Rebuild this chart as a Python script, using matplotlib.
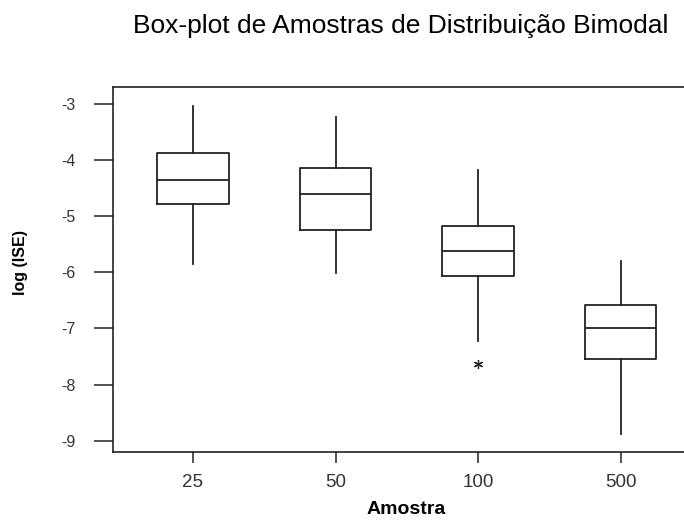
import matplotlib
matplotlib.use("Agg")
import matplotlib.pyplot as plt

plt.rcParams['font.family'] = ['Liberation Sans', 'DejaVu Sans']

# sample sizes (categories)
amostras = ['25', '50', '100', '500']
# box-plot statistics (log ISE)
whisker_hi = [-3.04, -3.23, -4.18, -5.80]
q3 = [-3.88, -4.14, -5.18, -6.59]
medianas = [-4.35, -4.60, -5.62, -6.99]
q1 = [-4.79, -5.25, -6.06, -7.54]
whisker_lo = [-5.85, -6.02, -7.22, -8.87]
outliers = [[], [], [-7.63], []]

stats = []
for i, nome in enumerate(amostras):
    stats.append(dict(label=nome, whishi=whisker_hi[i], q3=q3[i], med=medianas[i],
                      q1=q1[i], whislo=whisker_lo[i], fliers=outliers[i]))

fig = plt.figure(figsize=(6.84, 5.23), dpi=100)
# right edge of the frame runs just past the figure, as in the original
ax = fig.add_axes([0.1648, 0.1367, 0.860, 0.6964])

lc = '#222222'
ax.bxp(stats, positions=[1, 2, 3, 4], widths=0.5, showcaps=False,
       boxprops=dict(color=lc, lw=1.3),
       whiskerprops=dict(color=lc, lw=1.3),
       medianprops=dict(color=lc, lw=1.3),
       flierprops=dict(marker=(6, 2, 0), markersize=6.5, markeredgecolor=lc,
                       markeredgewidth=0.9, linestyle='none'))

ax.set_xlim(0.437, 4.563)
ax.set_ylim(-9.189, -2.708)
ax.set_yticks([-3, -4, -5, -6, -7, -8, -9])
ax.set_yticklabels(['-3', '-4', '-5', '-6', '-7', '-8', '-9'])
ax.set_xticks([1, 2, 3, 4])
ax.set_xticklabels(amostras)

for s in ax.spines.values():
    s.set_linewidth(1.2)
    s.set_color(lc)

ax.tick_params(axis='y', length=13.5, width=1.1, color=lc, pad=13.5,
               labelsize=11.5, labelcolor='#333333')
ax.tick_params(axis='x', length=8, width=1.1, color=lc, pad=8,
               labelsize=13.5, labelcolor='#333333')

ax.set_xlabel('Amostra', fontsize=14, fontweight='bold', va='center')
ax.xaxis.set_label_coords(0.499, -0.158)
ax.set_ylabel('log (ISE)', fontsize=11.5, fontweight='bold', va='center')
ax.yaxis.set_label_coords(-0.157, 0.52)

fig.text(132.7 / 684, 1 - 33.3 / 523, 'Box-plot de Amostras de Distribuição Bimodal',
         ha='left', va='baseline', fontsize=19)

plt.savefig('out.png', dpi=100)
